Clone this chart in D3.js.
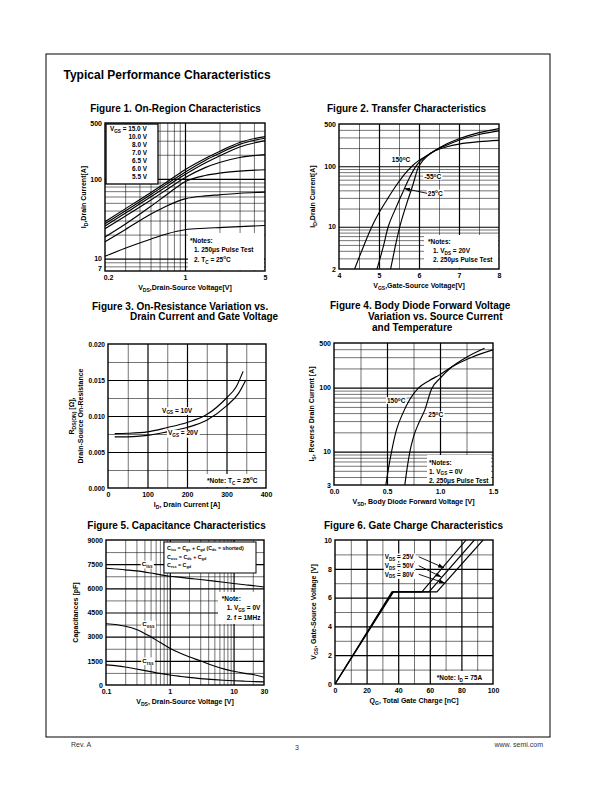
<!DOCTYPE html>
<html><head><meta charset="utf-8">
<script src="https://cdn.jsdelivr.net/npm/d3@7/dist/d3.min.js"></script>
<style>
html,body{margin:0;padding:0;background:#fff;}
svg{display:block;}
</style></head>
<body>
<svg id="page" width="595" height="792" xmlns="http://www.w3.org/2000/svg"></svg>
<script>
// ================= DATA =================
// Figure 1: On-Region Characteristics (ID vs VDS, log-log)
const fig1Vds   = [0.2, 0.3, 0.5, 0.7, 1, 1.5, 2, 3, 5];
const fig1Vgs   = ["15.0 V", "10.0 V", "8.0 V", "7.0 V", "6.5 V", "6.0 V", "5.5 V"];
const fig1Id150 = [29, 42, 67, 92, 130, 180, 220, 285, 338];
const fig1Id100 = [27.3, 39.5, 63, 87, 121, 170, 208, 270, 322];
const fig1Id80  = [25.6, 37, 59, 81, 113, 158, 193, 250, 301];
const fig1Id70  = [23.7, 34, 54, 74, 103, 138, 160, 185, 201];
const fig1Id65  = [18.7, 27, 45, 64, 92, 110, 118, 125, 130];
const fig1Id60  = [16.2, 23, 36, 46, 56, 61, 63, 66, 68];
const fig1Id55  = [10.7, 13.5, 17.5, 20.5, 23, 24, 24.5, 25.2, 26];
const fig1XTicks = [0.2, 1, 5];
const fig1YTicks = [500, 100, 10, 7];

// Figure 2: Transfer Characteristics
const fig2Vgs150 = [4.39, 4.6, 4.82, 5.0, 5.2, 5.4, 5.55, 5.7, 5.85, 6.0, 6.2, 6.4, 6.7, 7.0, 7.5, 8.0];
const fig2Id150  = [2, 4.5, 10, 17, 28, 45, 62, 82, 104, 125, 150, 180, 210, 232, 255, 268];
const fig2Vgs25  = [4.95, 5.1, 5.23, 5.4, 5.6, 5.75, 5.9, 6.05, 6.2, 6.4, 6.7, 7.0, 7.5, 8.0];
const fig2Id25   = [2, 4.5, 10, 19, 38, 62, 95, 125, 150, 182, 225, 270, 335, 385];
const fig2VgsM55 = [5.29, 5.4, 5.52, 5.7, 5.85, 5.98, 6.1, 6.25, 6.4, 6.7, 7.0, 7.5, 8.0];
const fig2IdM55  = [2, 4.5, 10, 25, 50, 95, 125, 155, 182, 235, 285, 360, 420];
const fig2XTicks = [4, 5, 6, 7, 8];
const fig2YTicks = [500, 100, 10, 2];

// Figure 3: On-Resistance vs Drain Current
const fig3Id10 = [17, 50, 100, 150, 200, 250, 300, 325, 342];
const fig3R10  = [0.00756, 0.0076, 0.0078, 0.0084, 0.0091, 0.0102, 0.0125, 0.0141, 0.0162];
const fig3Id20 = [17, 50, 100, 150, 200, 250, 300, 330, 349];
const fig3R20  = [0.0071, 0.0071, 0.0073, 0.0078, 0.0084, 0.0094, 0.0114, 0.0131, 0.0150];
const fig3XTicks = [0, 100, 200, 300, 400];
const fig3YTicks = [0, 0.005, 0.010, 0.015, 0.020];

// Figure 4: Body Diode Forward Voltage
const fig4Vsd150 = [0.489, 0.51, 0.543, 0.59, 0.65, 0.716, 0.8, 0.9, 1.0, 1.11, 1.3, 1.5];
const fig4Is150  = [3, 5, 10, 22, 40, 66, 100, 130, 160, 211, 300, 391];
const fig4Vsd25  = [0.668, 0.69, 0.716, 0.75, 0.8, 0.857, 0.92, 1.0, 1.11, 1.25, 1.42];
const fig4Is25   = [3, 5.5, 10, 17, 28, 45, 95, 140, 211, 300, 415];
const fig4XTicks = [0, 0.5, 1.0, 1.5];
const fig4YTicks = [500, 100, 10, 3];

// Figure 5: Capacitance Characteristics
const fig5Vds  = [0.1, 0.15, 0.2, 0.3, 0.5, 0.7, 1, 1.5, 2, 3, 5, 7, 10, 15, 20, 30];
const fig5Ciss = [7250, 7200, 7150, 7080, 6950, 6850, 6750, 6680, 6620, 6550, 6450, 6380, 6300, 6220, 6170, 6080];
const fig5Coss = [3800, 3740, 3650, 3450, 3000, 2650, 2280, 1950, 1750, 1500, 1180, 1000, 850, 720, 650, 480];
const fig5Crss = [1250, 1190, 1120, 990, 830, 720, 620, 530, 470, 400, 330, 295, 265, 235, 215, 195];
const fig5XTicks = [0.1, 1, 10, 30];
const fig5YTicks = [0, 1500, 3000, 4500, 6000, 7500, 9000];

// Figure 6: Gate Charge Characteristics
const fig6Qg25 = [0, 36, 55, 83];
const fig6Qg50 = [0, 36.5, 59.5, 88.2];
const fig6Qg80 = [0, 37, 64.5, 93.7];
const fig6Vgs  = [0, 6.4, 6.4, 10];
const fig6XTicks = [0, 20, 40, 60, 80, 100];
const fig6YTicks = [0, 2, 4, 6, 8, 10];

// ================= DRAWING =================
const FONT = '"Liberation Sans", Arial, Helvetica, sans-serif';
const svg = d3.select('#page').attr('font-family', FONT);
svg.append('rect').attr('width', 595).attr('height', 792).attr('fill', '#fff');
const defs = svg.append('defs');
defs.append('marker').attr('id', 'arrow').attr('viewBox', '0 0 10 10')
  .attr('refX', 10).attr('refY', 5).attr('markerWidth', 6).attr('markerHeight', 6)
  .attr('markerUnits', 'userSpaceOnUse').attr('orient', 'auto')
  .append('path').attr('d', 'M0,1.5 L10,5 L0,8.5 Z').attr('fill', '#000');

function rich(t, str, fs) {
  const re = /([_^])\{([^}]*)\}/g;
  let last = 0, m, cur = 0;
  const add = (s, want, size) => {
    const sp = t.append('tspan').text(s);
    const dy = want - cur; if (dy) sp.attr('dy', dy.toFixed(2)); cur = want;
    if (size) sp.attr('font-size', size);
  };
  while ((m = re.exec(str)) !== null) {
    if (m.index > last) add(str.slice(last, m.index), 0);
    add(m[2], m[1] === '_' ? fs * 0.28 : -fs * 0.4, fs * 0.72);
    last = re.lastIndex;
  }
  if (last < str.length) add(str.slice(last), 0);
}
function label(parent, x, y, str, o = {}) {
  const fs = o.fs || 7;
  const t = parent.append('text').attr('x', x).attr('y', y).attr('font-size', fs)
    .attr('font-weight', o.weight || 'bold').attr('text-anchor', o.anchor || 'start')
    .attr('fill', o.fill || '#000');
  if (o.rotate) t.attr('transform', `rotate(-90 ${x} ${y})`);
  rich(t, str, fs);
  if (o.bg) {
    const b = t.node().getBBox();
    parent.insert('rect', () => t.node()).attr('x', b.x - 1).attr('y', b.y + 0.5)
      .attr('width', b.width + 2).attr('height', b.height - 1).attr('fill', '#fff');
  }
  return t;
}

let clipId = 0;
function panel(c) {
  const g = svg.append('g');
  const w = c.R - c.L, h = c.B - c.T;
  const grid = (sel, sw) => {
    sel.select('.domain').remove();
    sel.selectAll('line').attr('stroke', '#000').attr('stroke-width', sw);
  };
  g.append('g').attr('transform', `translate(0,${c.B})`)
    .call(d3.axisBottom(c.x).tickValues(c.xMinor).tickSize(-h).tickFormat('')).call(grid, 0.55);
  g.append('g').attr('transform', `translate(${c.L},0)`)
    .call(d3.axisLeft(c.y).tickValues(c.yMinor).tickSize(-w).tickFormat('')).call(grid, 0.55);
  g.append('g').attr('transform', `translate(0,${c.B})`)
    .call(d3.axisBottom(c.x).tickValues(c.xMajor).tickSize(-h).tickFormat('')).call(grid, 1.2);
  g.append('g').attr('transform', `translate(${c.L},0)`)
    .call(d3.axisLeft(c.y).tickValues(c.yMajor).tickSize(-w).tickFormat('')).call(grid, 1.2);

  const id = 'clip' + (clipId++);
  defs.append('clipPath').attr('id', id).append('rect')
    .attr('x', c.L).attr('y', c.T).attr('width', w).attr('height', h);
  const line = d3.line().x(d => c.x(d[0])).y(d => c.y(d[1])).curve(c.curve || d3.curveMonotoneX);
  c.series.forEach(s => {
    g.append('path').attr('d', line(d3.zip(s[0], s[1]))).attr('fill', 'none')
      .attr('stroke', '#000').attr('stroke-width', 1.15).attr('clip-path', `url(#${id})`);
  });
  g.append('rect').attr('x', c.L).attr('y', c.T).attr('width', w).attr('height', h)
    .attr('fill', 'none').attr('stroke', '#000').attr('stroke-width', 1.4);

  const xa = g.append('g').attr('transform', `translate(0,${c.B})`)
    .call(d3.axisBottom(c.x).tickValues(c.xTicks).tickSize(0).tickPadding(4).tickFormat(c.xFmt));
  const ya = g.append('g').attr('transform', `translate(${c.L},0)`)
    .call(d3.axisLeft(c.y).tickValues(c.yTicks).tickSize(0).tickPadding(3).tickFormat(c.yFmt));
  xa.attr('font-size', 7); ya.attr('font-size', c.yTickFs || 7);
  [xa, ya].forEach(a => {
    a.select('.domain').remove();
    a.attr('font-family', FONT);
    a.selectAll('text').attr('font-weight', 'bold').attr('fill', '#000');
  });
  if (c.xTitle) label(g, (c.L + c.R) / 2, c.B + 19, c.xTitle, { anchor: 'middle', fs: 7 });
  if (c.yTitle) c.yTitle.forEach((t, i) =>
    label(g, c.yTitleX + i * (c.yTitleStep || 8.5), (c.T + c.B) / 2, t, { anchor: 'middle', fs: 7, rotate: true }));
  if (c.title) c.title.forEach(t => label(svg, t[0], t[1], t[2], { anchor: t[3] || 'middle', fs: 10 }));
  return g;
}
const numFmt = d => String(d);

// page frame & heading
svg.append('rect').attr('x', 46).attr('y', 54).attr('width', 504).attr('height', 683)
  .attr('fill', 'none').attr('stroke', '#000').attr('stroke-width', 1);
label(svg, 63.5, 78.5, 'Typical Performance Characteristics', { fs: 12 });
label(svg, 71, 747, 'Rev. A', { fs: 7, weight: 'normal', fill: '#333' });
label(svg, 297, 750, '3', { fs: 7, weight: 'normal', fill: '#333', anchor: 'middle' });
label(svg, 543, 747, 'www.    semi.com', { fs: 7, weight: 'normal', fill: '#333', anchor: 'end' });

// ---------- Figure 1 ----------
{
  const x = d3.scaleLog().domain([0.2, 5]).range([105, 265]);
  const y = d3.scaleLog().domain([7, 500]).range([271, 123]);
  const g = panel({
    L: 105, T: 123, R: 265, B: 271, x, y,
    xMinor: [0.3, 0.4, 0.5, 0.6, 0.7, 0.8, 0.9, 2, 3, 4], xMajor: [1],
    yMinor: [8, 9, 20, 30, 40, 50, 60, 70, 80, 90, 200, 300, 400], yMajor: [10, 100],
    xTicks: fig1XTicks, xFmt: numFmt, yTicks: fig1YTicks, yFmt: numFmt,
    series: [fig1Id150, fig1Id100, fig1Id80, fig1Id70, fig1Id65, fig1Id60, fig1Id55].map(s => [fig1Vds, s]),
    xTitle: 'V_{DS},Drain-Source Voltage[V]', yTitle: ['I_{D},Drain Current[A]'], yTitleX: 86,
    title: [[175.5, 111.5, 'Figure 1. On-Region Characteristics']]
  });
  g.selectAll('.tick text').filter(d => d === 7).attr('dy', '-0.1em');
  g.selectAll('.tick text').filter(d => d === 0.2).attr('dx', 3);
  g.append('rect').attr('x', 106).attr('y', 124).attr('width', 52).attr('height', 60)
    .attr('fill', '#fff').attr('stroke', '#000').attr('stroke-width', 1.3);
  fig1Vgs.forEach((v, i) => {
    if (i === 0) label(g, 110, 130.8, 'V_{GS} = ' + v, { fs: 6.4 });
    else label(g, 147, 130.8 + i * 8.1, v, { fs: 6.4, anchor: 'end' });
  });
  g.append('rect').attr('x', 188).attr('y', 233).attr('width', 76).attr('height', 37).attr('fill', '#fff');
  label(g, 190, 243, '*Notes:', { fs: 6.5 });
  label(g, 194, 252, '1. 250μs Pulse Test', { fs: 6.5 });
  label(g, 194, 262, '2. T_{C} = 25^{o}C', { fs: 6.5 });
}

// ---------- Figure 2 ----------
{
  const x = d3.scaleLinear().domain([4, 8]).range([339, 499]);
  const y = d3.scaleLog().domain([2, 500]).range([269, 124]);
  const g = panel({
    L: 339, T: 124, R: 499, B: 269, x, y,
    xMinor: [4.5, 5.5, 6.5, 7.5], xMajor: [5, 6, 7],
    yMinor: [3, 4, 5, 6, 7, 8, 9, 20, 30, 40, 50, 60, 70, 80, 90, 200, 300, 400], yMajor: [10, 100],
    xTicks: fig2XTicks, xFmt: numFmt, yTicks: fig2YTicks, yFmt: numFmt,
    series: [[fig2Vgs150, fig2Id150], [fig2Vgs25, fig2Id25], [fig2VgsM55, fig2IdM55]],
    xTitle: 'V_{GS},Gate-Source Voltage[V]', yTitle: ['I_{D},Drain Current[A]'], yTitleX: 315,
    title: [[406.5, 111.5, 'Figure 2. Transfer Characteristics']]
  });
  label(g, x(5.32), y(127) + 2.4, '150^{o}C', { fs: 6.5, bg: true });
  label(g, x(6.13), y(67) + 2.4, '-55^{o}C', { fs: 6.5, bg: true });
  label(g, x(6.22), y(35.7) + 2.4, '25^{o}C', { fs: 6.5, bg: true });
  g.append('line').attr('x1', x(6.2)).attr('y1', y(35.7)).attr('x2', x(5.63)).attr('y2', y(43))
    .attr('stroke', '#000').attr('stroke-width', 0.9).attr('marker-end', 'url(#arrow)');
  g.append('rect').attr('x', 424).attr('y', 235).attr('width', 74).attr('height', 33).attr('fill', '#fff');
  label(g, 428, 244, '*Notes:', { fs: 6.5 });
  label(g, 433, 253, '1. V_{DS} = 20V', { fs: 6.5 });
  label(g, 433, 262, '2. 250μs Pulse Test', { fs: 6.5 });
}

// ---------- Figure 3 ----------
{
  const x = d3.scaleLinear().domain([0, 400]).range([108, 266]);
  const y = d3.scaleLinear().domain([0, 0.02]).range([488, 344]);
  const g = panel({
    L: 108, T: 344, R: 266, B: 488, x, y,
    xMinor: [50, 150, 250, 350], xMajor: [100, 200, 300],
    yMinor: [0.0025, 0.0075, 0.0125, 0.0175], yMajor: [0.005, 0.01, 0.015],
    xTicks: fig3XTicks, xFmt: numFmt, yTicks: fig3YTicks, yFmt: d3.format('.3f'), yTickFs: 6.6,
    series: [[fig3Id10, fig3R10], [fig3Id20, fig3R20]],
    xTitle: 'I_{D}, Drain Current [A]',
    yTitle: ['R_{DS(ON)} [Ω],', 'Drain-Source On-Resistance'], yTitleX: 74, yTitleStep: 9,
    title: [[92, 309.5, 'Figure 3. On-Resistance Variation vs.', 'start'],
            [130, 320, 'Drain Current and Gate Voltage', 'start']]
  });
  label(g, x(137), y(0.0108) + 2.4, 'V_{GS} = 10V', { fs: 6.5, bg: true });
  label(g, x(228), y(0.00764) + 2.4, 'V_{GS} = 20V', { fs: 6.5, bg: true, anchor: 'end' });
  g.append('rect').attr('x', 204).attr('y', 474).attr('width', 61).attr('height', 13).attr('fill', '#fff');
  label(g, 207, 483, '*Note: T_{C} = 25^{o}C', { fs: 6.5 });
}

// ---------- Figure 4 ----------
{
  const x = d3.scaleLinear().domain([0, 1.5]).range([334, 493]);
  const y = d3.scaleLog().domain([3, 500]).range([485, 343]);
  const g = panel({
    L: 334, T: 343, R: 493, B: 485, x, y,
    xMinor: [0.25, 0.75, 1.25], xMajor: [0.5, 1.0],
    yMinor: [4, 5, 6, 7, 8, 9, 20, 30, 40, 50, 60, 70, 80, 90, 200, 300, 400], yMajor: [10, 100],
    xTicks: fig4XTicks, xFmt: d3.format('.1f'), yTicks: fig4YTicks, yFmt: numFmt,
    series: [[fig4Vsd150, fig4Is150], [fig4Vsd25, fig4Is25]],
    xTitle: 'V_{SD}, Body Diode Forward Voltage [V]',
    yTitle: ['I_{S}, Reverse Drain Current [A]'], yTitleX: 314,
    title: [[330, 309, 'Figure 4. Body Diode Forward Voltage', 'start'],
            [368, 319.5, 'Variation vs. Source Current', 'start'],
            [372, 331, 'and Temperature', 'start']]
  });
  label(g, x(0.5), y(62) + 2.4, '150^{o}C', { fs: 6.5, bg: true });
  label(g, x(0.89), y(37.3) + 2.4, '25^{o}C', { fs: 6.5, bg: true });
  g.append('rect').attr('x', 427).attr('y', 455).attr('width', 64).attr('height', 29).attr('fill', '#fff');
  label(g, 429, 464.5, '*Notes:', { fs: 6.5 });
  label(g, 429, 473.5, '1. V_{GS} = 0V', { fs: 6.5 });
  label(g, 429, 483, '2. 250μs Pulse Test', { fs: 6.5 });
}

// ---------- Figure 5 ----------
{
  const x = d3.scaleLog().domain([0.1, 30]).range([106, 264]);
  const y = d3.scaleLinear().domain([0, 9000]).range([685, 540]);
  const g = panel({
    L: 106, T: 540, R: 264, B: 685, x, y,
    xMinor: [0.2, 0.3, 0.4, 0.5, 0.6, 0.7, 0.8, 0.9, 2, 3, 4, 5, 6, 7, 8, 9, 20], xMajor: [1, 10],
    yMinor: [750, 2250, 3750, 5250, 6750, 8250], yMajor: [1500, 3000, 4500, 6000, 7500],
    xTicks: fig5XTicks, xFmt: numFmt, yTicks: fig5YTicks, yFmt: numFmt,
    series: [[fig5Vds, fig5Ciss], [fig5Vds, fig5Coss], [fig5Vds, fig5Crss]],
    xTitle: 'V_{DS}, Drain-Source Voltage [V]', yTitle: ['Capacitances [pF]'], yTitleX: 78,
    title: [[176.5, 528.5, 'Figure 5. Capacitance Characteristics']]
  });
  label(g, x(0.363), y(7510) + 2.2, 'C_{iss}', { fs: 6.2, bg: true });
  label(g, x(0.37), y(3786) + 2.2, 'C_{oss}', { fs: 6.2, bg: true });
  label(g, x(0.37), y(1508) + 2.2, 'C_{rss}', { fs: 6.2, bg: true });
  g.append('rect').attr('x', 164).attr('y', 542).attr('width', 92).attr('height', 31)
    .attr('fill', '#fff').attr('stroke', '#000').attr('stroke-width', 1);
  label(g, 167, 550, 'C_{iss} = C_{gs} + C_{gd} (C_{ds} = shorted)', { fs: 5.3 });
  label(g, 167, 558.5, 'C_{oss} = C_{ds} + C_{gd}', { fs: 5.3 });
  label(g, 167, 567, 'C_{rss} = C_{gd}', { fs: 5.3 });
  g.append('rect').attr('x', 218).attr('y', 592).attr('width', 45).attr('height', 32).attr('fill', '#fff');
  label(g, 221.7, 601.3, '*Note:', { fs: 6.5 });
  label(g, 226.7, 610.3, '1. V_{GS} = 0V', { fs: 6.5 });
  label(g, 226.7, 620.3, '2. f = 1MHz', { fs: 6.5 });
}

// ---------- Figure 6 ----------
{
  const x = d3.scaleLinear().domain([0, 100]).range([335, 493]);
  const y = d3.scaleLinear().domain([0, 10]).range([684, 540]);
  const g = panel({
    L: 335, T: 540, R: 493, B: 684, x, y,
    xMinor: [10, 30, 50, 70, 90], xMajor: [20, 40, 60, 80],
    yMinor: [1, 3, 5, 7, 9], yMajor: [2, 4, 6, 8],
    xTicks: fig6XTicks, xFmt: numFmt, yTicks: fig6YTicks, yFmt: numFmt,
    series: [[fig6Qg25, fig6Vgs], [fig6Qg50, fig6Vgs], [fig6Qg80, fig6Vgs]],
    curve: d3.curveLinear,
    xTitle: 'Q_{G}, Total Gate Charge [nC]', yTitle: ['V_{GS}, Gate-Source Voltage [V]'], yTitleX: 316,
    title: [[413.5, 528.5, 'Figure 6. Gate Charge Characteristics']]
  });
  const labs = [['V_{DS} = 25V', 8.84, 69, 8.06], ['V_{DS} = 50V', 8.22, 67.3, 7.43], ['V_{DS} = 80V', 7.62, 69.6, 7.0]];
  labs.forEach(l => {
    label(g, x(31.5), y(l[1]) + 2.3, l[0], { fs: 6.3, bg: true });
    g.append('line').attr('x1', x(53)).attr('y1', y(l[1])).attr('x2', x(l[2])).attr('y2', y(l[3]))
      .attr('stroke', '#000').attr('stroke-width', 0.9).attr('marker-end', 'url(#arrow)');
  });
  g.append('rect').attr('x', 433).attr('y', 671).attr('width', 59).attr('height', 12).attr('fill', '#fff');
  label(g, 436.7, 679.7, '*Note: I_{D} = 75A', { fs: 6.5 });
}
</script>
</body></html>
